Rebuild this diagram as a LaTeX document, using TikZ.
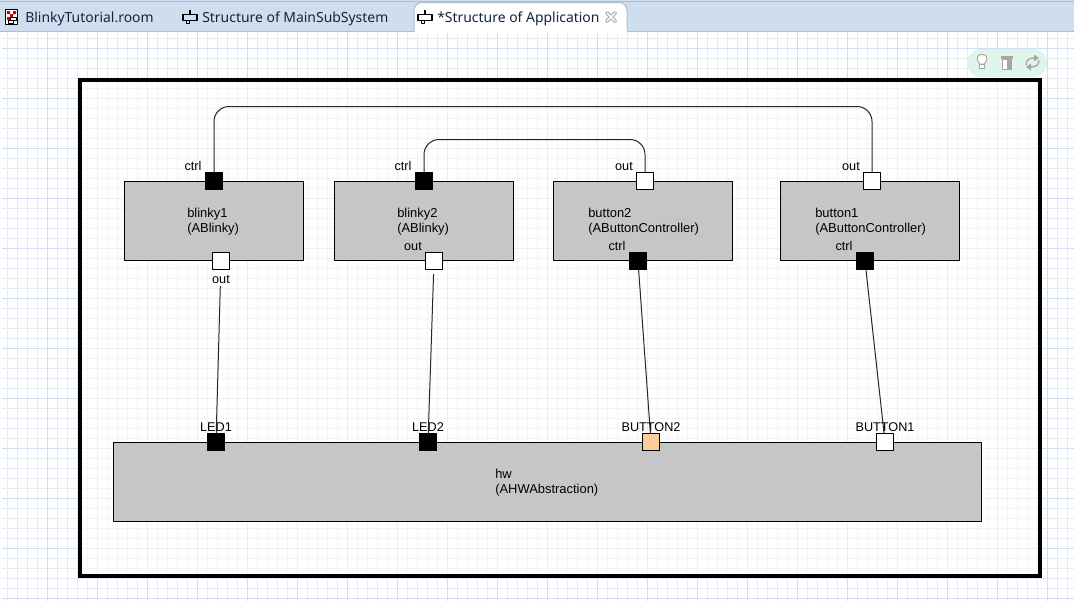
\documentclass[tikz,border=0pt]{standalone}
\usepackage{fontspec}
\setmainfont{Liberation Sans}
\newfontfamily\tabfont{Noto Sans}
\usetikzlibrary{arrows.meta,calc}
\definecolor{tabblue}{HTML}{CFDEEE}
\definecolor{tabedge}{HTML}{B4BCCC}
\definecolor{tabink}{HTML}{15233F}
\definecolor{gridminor}{HTML}{E3ECF6}
\definecolor{gridmajor}{HTML}{CFDFF1}
\definecolor{actorgray}{HTML}{C6C6C6}
\definecolor{relayport}{HTML}{FFCC99}
\definecolor{pillgreen}{HTML}{DFF4EA}
\definecolor{icongray}{HTML}{A6A6A6}
\tikzset{
  actorbox/.style={draw=black, line width=.75pt, fill=actorgray, inner sep=0pt, minimum width=134.25pt, minimum height=59.25pt},
  portbox/.style={draw=black, line width=.75pt, inner sep=0pt, minimum size=12.75pt},
  endport/.style={portbox, fill=black},
  conjport/.style={portbox, fill=white},
  relaybox/.style={portbox, fill=relayport},
  portlabel/.style={anchor=base, inner sep=0pt, font=\fontsize{9.5pt}{12pt}\selectfont},
  actorlabel/.style={anchor=north west, inner sep=0pt, align=left, font=\fontsize{9.7pt}{11.25pt}\selectfont},
  tablabel/.style={anchor=base west, inner sep=0pt, text=tabink, font=\tabfont\fontsize{10.45pt}{13pt}\selectfont},
  wire/.style={line width=.75pt, color=black!85},
}
\begin{document}
\begin{tikzpicture}[x=.75pt, y=-.75pt, line join=round]
  \useasboundingbox (0,0) rectangle (1074,601);
  % Grid paper
  \fill[white] (0,0) rectangle (1074,601);
  \foreach \gx in {7.5,17.5,...,1067.5} \draw[gridminor, line width=.75pt] (\gx,32) -- (\gx,601);
  \foreach \gy in {38.5,48.5,...,598.5} \draw[gridminor, line width=.75pt] (2,\gy) -- (1074,\gy);
  \foreach \gx in {47.5,97.5,...,1047.5} \draw[gridmajor, line width=.75pt] (\gx,32) -- (\gx,601);
  \foreach \gy in {48.5,98.5,...,598.5} \draw[gridmajor, line width=.75pt] (2,\gy) -- (1074,\gy);

  % Tab bar
  \fill[tabblue] (0,0) rectangle (1074,31);
  \draw[tabedge, line width=.75pt] (0,1.5) -- (1074,1.5);
  \draw[tabedge, line width=.75pt] (0,31.5) -- (1074,31.5);
  \draw[tabedge, line width=.75pt, fill=white, rounded corners=6pt] (414,32) -- (414,2.5) -- (627,2.5) -- (627,32);
  \fill[white] (414.5,28) rectangle (626.5,33);
  \node[tablabel] (tabroom) at (25,22) {BlinkyTutorial.room};
  \node[tablabel] (tabmain) at (202,22) {Structure of MainSubSystem};
  \node[tablabel] (tabapp) at (437,22) {*Structure of Application};

  % Tab icons
  \draw[black, fill=white, line width=.75pt] (5.5,9.5) rectangle (17.5,24.5);
  \fill[red!80!black] (7,11) rectangle (10,14) (10,14) rectangle (13,17) (13,11) rectangle (16,14) (7,17) rectangle (10,20);
  \draw[black, line width=.75pt] (10.5,17.5) rectangle (16.5,20.5) (8.5,20.5) rectangle (13.5,23.5);
  \foreach \ix in {183,418} {
    \draw[black, line width=1pt] (\ix,14.5) rectangle (\ix+14,20.5);
    \draw[black, line width=1pt] (\ix+7,10) -- (\ix+7,14.5);
    \draw[black, line width=.75pt] (\ix+3.5,20.5) rectangle (\ix+6.5,23);
  }
  \draw[icongray, line width=.75pt] (606,12) -- (608,12) -- (611,15) -- (614,12) -- (616,12) -- (616,14) -- (613,17)
    -- (616,20) -- (616,22) -- (614,22) -- (611,19) -- (608,22) -- (606,22) -- (606,20) -- (609,17) -- (606,14) -- cycle;

  % Toolbar
  \fill[pillgreen] (967,49) [rounded corners=10.5pt] rectangle (1047,77);
  \draw[icongray, line width=.75pt, fill=white] (979.5,64) .. controls (975,57) and (978,54.5) .. (982,54.5)
    .. controls (986,54.5) and (989,57) .. (984.5,64) -- cycle;
  \draw[icongray, line width=.75pt, fill=white] (979.5,64) rectangle (984.5,68);
  \fill[icongray] (1001,56) rectangle (1013,59);
  \draw[icongray, line width=.75pt, fill=white] (1002.5,59) rectangle (1011.5,69);
  \fill[icongray] (1007,59) rectangle (1012,69);
  \draw[icongray, line width=1pt] (1026,65) .. controls (1026,59) and (1030,58) .. (1036,58);
  \draw[icongray, line width=1pt] (1039,60) .. controls (1039,66) and (1035,67) .. (1029,67);
  \fill[icongray] (1034,54.5) -- (1039,58) -- (1034,61.5) -- cycle (1031,63.5) -- (1026,67) -- (1031,70.5) -- cycle;

  % Application frame
  \fill[white, opacity=.5] (80,80) rectangle (1040,576);
  \draw[black, line width=3pt, line join=miter] (80,80) rectangle (1040,576);

  % Actors
  \node[actorbox] (blinkyOne) at (214,221) {};
  \node[actorbox] (blinkyTwo) at (424,221) {};
  \node[actorbox] (buttonTwo) at (643,221) {};
  \node[actorbox] (buttonOne) at (870,221) {};
  \node[actorbox, minimum width=651pt] (hw) at (547.5,482) {};
  \node[actorlabel] (blinkyOneText) at (187,207.5) {blinky1\\(ABlinky)};
  \node[actorlabel] (blinkyTwoText) at (397,207.5) {blinky2\\(ABlinky)};
  \node[actorlabel] (buttonTwoText) at (588,207.5) {button2\\(AButtonController)};
  \node[actorlabel] (buttonOneText) at (815,207.5) {button1\\(AButtonController)};
  \node[actorlabel] (hwText) at (495,469) {hw\\(AHWAbstraction)};

  % Ports
  \node[endport] (blinkyOneCtrl) at (214,181) {};
  \node[conjport] (blinkyOneOut) at (221,261) {};
  \node[endport] (blinkyTwoCtrl) at (424,181) {};
  \node[conjport] (blinkyTwoOut) at (434,261) {};
  \node[conjport] (buttonTwoOut) at (645,181) {};
  \node[endport] (buttonTwoCtrl) at (638,261) {};
  \node[conjport] (buttonOneOut) at (872,181) {};
  \node[endport] (buttonOneCtrl) at (865,261) {};
  \node[endport] (ledOne) at (216,442) {};
  \node[endport] (ledTwo) at (428,442) {};
  \node[relaybox] (buttonTwoHw) at (651,442) {};
  \node[conjport] (buttonOneHw) at (885,442) {};

  % Port labels
  \node[portlabel] (blinkyOneCtrlText) at (193,170) {ctrl};
  \node[portlabel] (blinkyOneOutText) at (221,283) {out};
  \node[portlabel] (blinkyTwoCtrlText) at (403,170) {ctrl};
  \node[portlabel] (blinkyTwoOutText) at (413,250) {out};
  \node[portlabel] (buttonTwoOutText) at (624,170) {out};
  \node[portlabel] (buttonTwoCtrlText) at (617,250) {ctrl};
  \node[portlabel] (buttonOneOutText) at (851,170) {out};
  \node[portlabel] (buttonOneCtrlText) at (844,250) {ctrl};
  \node[portlabel] (ledOneText) at (216,431) {LED1};
  \node[portlabel] (ledTwoText) at (428,431) {LED2};
  \node[portlabel] (buttonTwoHwText) at (651,431) {BUTTON2};
  \node[portlabel] (buttonOneHwText) at (885,431) {BUTTON1};

  % Connectors
  \coordinate (longLeft) at (214,106.5);
  \coordinate (longRight) at (872,106.5);
  \coordinate (shortLeft) at (424,139.5);
  \coordinate (shortRight) at (645,139.5);
  \draw[wire, rounded corners=11.25pt] (blinkyOneCtrl.north) -- (longLeft) -- (longRight) -- (buttonOneOut.north);
  \draw[wire, rounded corners=11.25pt] (blinkyTwoCtrl.north) -- (shortLeft) -- (shortRight) -- (buttonTwoOut.north);
  \draw[wire, shorten <=12pt] (blinkyOneOut) -- (ledOne);
  \draw[wire, shorten <=3pt] (blinkyTwoOut) -- (ledTwo);
  \draw[wire] (buttonTwoCtrl) -- (buttonTwoHw);
  \draw[wire] (buttonOneCtrl) -- (buttonOneHw);
\end{tikzpicture}
\end{document}
